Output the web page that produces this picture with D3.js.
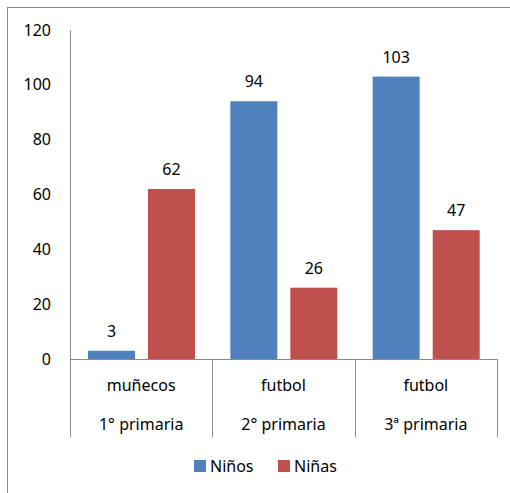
<!DOCTYPE html>
<html>
<head>
<meta charset="utf-8">
<script src="https://cdn.jsdelivr.net/npm/d3@7"></script>
<style>
  html, body { margin: 0; padding: 0; background: #fff; }
  svg { display: block; }
  text { font-family: "Noto Sans", "Open Sans", sans-serif; fill: #000; }
</style>
</head>
<body>
<svg id="chart" width="510" height="493"></svg>
<script>
// Favourite toy by school year
const toys = ["muñecos", "futbol", "futbol"];
const grades = ["1° primaria", "2° primaria", "3ª primaria"];
const seriesNames = ["Niños", "Niñas"];
const ninos = [3, 94, 103];
const ninas = [62, 26, 47];
const yTicks = [0, 20, 40, 60, 80, 100, 120];
const colors = ["#4F81BD", "#C0504D"];

const FONT = "'Noto Sans', 'Open Sans', sans-serif";
const FS = 16;
const svg = d3.select("#chart");
const plot = { left: 70, right: 497, top: 30, bottom: 359 };
const axisGray = "#8a8a8a";

// outer chart frame
svg.append("rect")
  .attr("x", 7.5).attr("y", 7.5)
  .attr("width", 600).attr("height", 600)
  .attr("fill", "none").attr("stroke", axisGray).attr("stroke-width", 1);

const cats = d3.range(toys.length);
const x0 = d3.scaleBand().domain(cats).range([plot.left, plot.right]);
const x1 = d3.scaleBand().domain([0, 1]).range([18, 125]).paddingInner(0.217).paddingOuter(0);
const y = d3.scaleLinear().domain([0, 120]).range([plot.bottom, plot.top]);

// y axis
const yAxis = d3.axisLeft(y).tickValues(yTicks).tickSize(0).tickPadding(19);
const gy = svg.append("g").attr("transform", `translate(${plot.left},0)`).call(yAxis);
gy.select(".domain").attr("stroke", axisGray).attr("d", `M0.5,${plot.top}V${plot.bottom}`);
gy.selectAll("text").attr("font-size", FS).attr("font-family", FONT).attr("fill", "#000");

// bars
const data = cats.map(i => [ninos[i], ninas[i]]);
const groups = svg.append("g").selectAll("g").data(data).join("g")
  .attr("transform", (d, i) => `translate(${x0(i)},0)`);
groups.selectAll("rect").data(d => d.map((v, s) => ({ v, s }))).join("rect")
  .attr("x", d => x1(d.s))
  .attr("width", x1.bandwidth())
  .attr("y", d => y(d.v))
  .attr("height", d => y(0) - y(d.v))
  .attr("fill", d => colors[d.s]);

// value labels
groups.selectAll("text.val").data(d => d.map((v, s) => ({ v, s }))).join("text")
  .attr("class", "val")
  .attr("x", d => x1(d.s) + x1.bandwidth() / 2)
  .attr("y", d => y(d.v) - 14)
  .attr("text-anchor", "middle")
  .attr("font-size", FS)
  .text(d => d.v);

// baseline and category dividers
svg.append("line")
  .attr("x1", plot.left).attr("x2", plot.right)
  .attr("y1", plot.bottom + 0.5).attr("y2", plot.bottom + 0.5)
  .attr("stroke", axisGray);
const bounds = cats.map(i => x0(i)).concat([plot.right]);
svg.selectAll("line.div").data(bounds).join("line")
  .attr("class", "div")
  .attr("x1", d => Math.round(d) + 0.5).attr("x2", d => Math.round(d) + 0.5)
  .attr("y1", plot.bottom).attr("y2", 437)
  .attr("stroke", axisGray);

// two-level category labels
svg.selectAll("text.toy").data(cats).join("text")
  .attr("class", "toy")
  .attr("x", i => x0(i) + x0.bandwidth() / 2)
  .attr("y", 391)
  .attr("text-anchor", "middle")
  .attr("font-size", FS)
  .text(i => toys[i]);
svg.selectAll("text.grade").data(cats).join("text")
  .attr("class", "grade")
  .attr("x", i => x0(i) + x0.bandwidth() / 2)
  .attr("y", 430)
  .attr("text-anchor", "middle")
  .attr("font-size", FS)
  .text(i => grades[i]);

// legend
const legendX = [194, 278];
const leg = svg.append("g").selectAll("g").data(seriesNames).join("g")
  .attr("transform", (d, i) => `translate(${legendX[i]},460)`);
leg.append("rect").attr("width", 12).attr("height", 12).attr("fill", (d, i) => colors[i]);
leg.append("text").attr("x", 16).attr("y", 12).attr("font-size", FS).text(d => d);
</script>
</body>
</html>
